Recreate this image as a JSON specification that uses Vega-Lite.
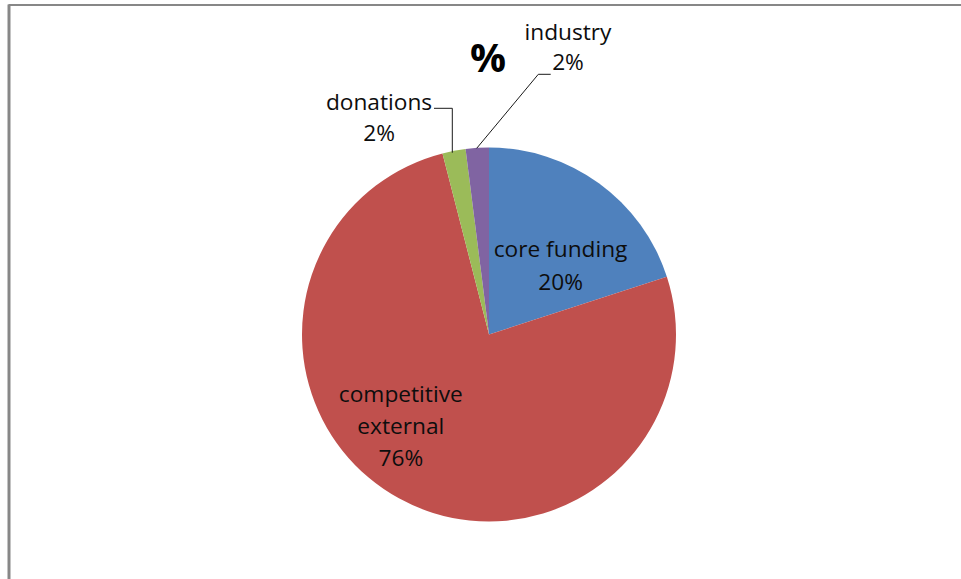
{
  "$schema": "https://vega.github.io/schema/vega-lite/v6.json",
  "width": 952.5,
  "height": 575,
  "autosize": {"type": "none"},
  "padding": {"left": 8.5, "top": 4, "right": 0, "bottom": 0},
  "background": "white",
  "config": {
    "view": {"stroke": null},
    "font": "Open Sans",
    "axis": {"domainColor": "#878787", "ticks": false, "labels": false, "grid": false, "title": null}
  },
  "datasets": {
    "funding": [
      {"idx": 1, "category": "core funding", "value": 20, "label": ["core funding", "20%"]},
      {"idx": 2, "category": "competitive external", "value": 76, "label": ["competitive", "external", "76%"]},
      {"idx": 3, "category": "donations", "value": 2, "label": ["donations", "2%"]},
      {"idx": 4, "category": "industry", "value": 2, "label": ["industry", "2%"]}
    ],
    "leaders": [
      {"category": "donations", "step": 1, "px": -36.7, "py": 181.8},
      {"category": "donations", "step": 2, "px": -36.7, "py": 226.2},
      {"category": "donations", "step": 3, "px": -55, "py": 226.2},
      {"category": "industry", "step": 1, "px": -12.3, "py": 186.2},
      {"category": "industry", "step": 2, "px": 49.3, "py": 260.2},
      {"category": "industry", "step": 3, "px": 61.7, "py": 260.2}
    ],
    "titles": [{"text": "%"}]
  },
  "layer": [
    {
      "data": {"name": "funding"},
      "mark": {"type": "arc", "radius": 187},
      "encoding": {
        "x": {"datum": 0, "type": "quantitative", "scale": {"domain": [-480.5, 472], "nice": false, "zero": false}, "axis": null},
        "y": {"datum": 0, "type": "quantitative", "scale": {"domain": [-244.5, 330.5], "nice": false, "zero": false}, "axis": {"orient": "left", "domainWidth": 3}},
        "theta": {"field": "value", "type": "quantitative", "stack": true},
        "color": {
          "field": "category",
          "type": "nominal",
          "scale": {
            "domain": ["core funding", "competitive external", "donations", "industry"],
            "range": ["#4F81BD", "#C0504D", "#9BBB59", "#8064A2"]
          },
          "legend": null
        },
        "order": {"field": "idx", "type": "quantitative"}
      }
    },
    {
      "data": {"name": "titles"},
      "mark": {"type": "rule", "color": "#878787", "strokeWidth": 2},
      "encoding": {
        "x": {"datum": -480.5, "type": "quantitative", "axis": null},
        "x2": {"datum": 472},
        "y": {"datum": 329.5, "type": "quantitative", "axis": {"orient": "left", "domainWidth": 3}}
      }
    },
    {
      "data": {"name": "leaders"},
      "mark": {"type": "line", "stroke": "#1a1a1a", "strokeWidth": 1},
      "encoding": {
        "x": {"field": "px", "type": "quantitative", "axis": null},
        "y": {"field": "py", "type": "quantitative", "axis": {"orient": "left", "domainWidth": 3}},
        "detail": {"field": "category", "type": "nominal"},
        "order": {"field": "step", "type": "quantitative"}
      }
    },
    {
      "data": {"name": "titles"},
      "mark": {"type": "text", "theta": 0, "radius": 262.5, "dx": -1, "align": "center", "baseline": "alphabetic", "fontSize": 40, "fontWeight": "bold", "color": "#000000"},
      "encoding": {
        "x": {"datum": 0, "type": "quantitative", "axis": null},
        "y": {"datum": 0, "type": "quantitative", "axis": {"orient": "left", "domainWidth": 3}},
        "text": {"field": "text"}
      }
    },
    {
      "data": {"name": "funding"},
      "transform": [{"filter": "datum.category === 'core funding'"}],
      "mark": {"type": "text", "theta": 0.7433, "radius": 105.7, "align": "center", "baseline": "alphabetic", "fontSize": 22.7, "lineHeight": 33, "color": "#0d0d0d"},
      "encoding": {
        "x": {"datum": 0, "type": "quantitative", "axis": null},
        "y": {"datum": 0, "type": "quantitative", "axis": {"orient": "left", "domainWidth": 3}},
        "text": {"field": "label"}
      }
    },
    {
      "data": {"name": "funding"},
      "transform": [{"filter": "datum.category === 'competitive external'"}],
      "mark": {"type": "text", "theta": 4.0614, "radius": 110.9, "align": "center", "baseline": "alphabetic", "fontSize": 22.7, "lineHeight": 32, "color": "#0d0d0d"},
      "encoding": {
        "x": {"datum": 0, "type": "quantitative", "axis": null},
        "y": {"datum": 0, "type": "quantitative", "axis": {"orient": "left", "domainWidth": 3}},
        "text": {"field": "label"}
      }
    },
    {
      "data": {"name": "funding"},
      "transform": [{"filter": "datum.category === 'donations'"}],
      "mark": {"type": "text", "theta": -0.4555, "radius": 250, "align": "center", "baseline": "alphabetic", "fontSize": 22.7, "lineHeight": 31, "color": "#0d0d0d"},
      "encoding": {
        "x": {"datum": 0, "type": "quantitative", "axis": null},
        "y": {"datum": 0, "type": "quantitative", "axis": {"orient": "left", "domainWidth": 3}},
        "text": {"field": "label"}
      }
    },
    {
      "data": {"name": "funding"},
      "transform": [{"filter": "datum.category === 'industry'"}],
      "mark": {"type": "text", "theta": 0.2621, "radius": 304.9, "align": "center", "baseline": "alphabetic", "fontSize": 22.7, "lineHeight": 30, "color": "#0d0d0d"},
      "encoding": {
        "x": {"datum": 0, "type": "quantitative", "axis": null},
        "y": {"datum": 0, "type": "quantitative", "axis": {"orient": "left", "domainWidth": 3}},
        "text": {"field": "label"}
      }
    }
  ]
}
